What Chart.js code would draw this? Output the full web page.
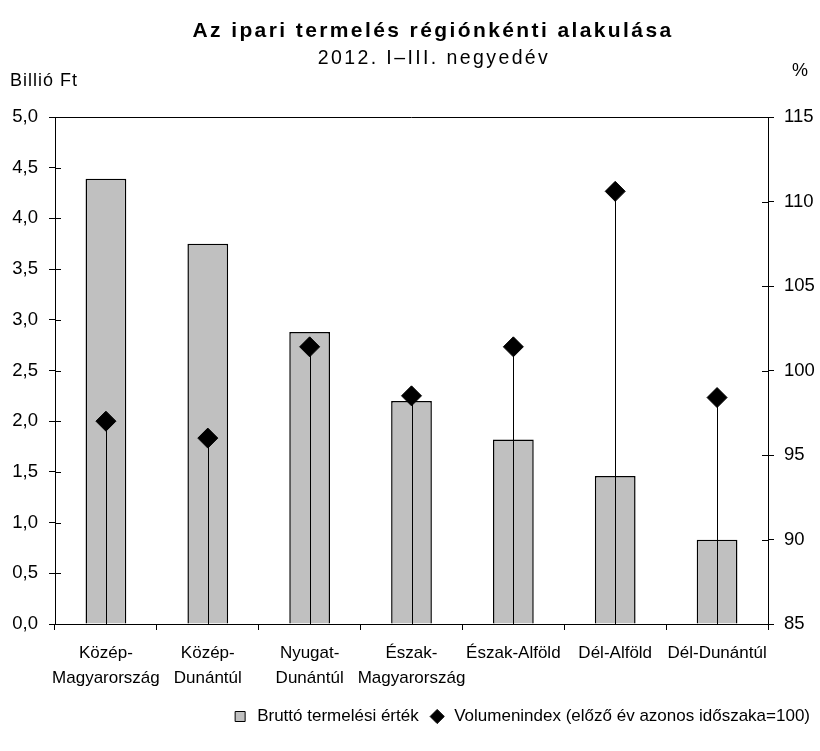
<!DOCTYPE html>
<html>
<head>
<meta charset="utf-8">
<script src="https://cdn.jsdelivr.net/npm/chart.js@4.4.1/dist/chart.umd.min.js"></script>
<style>
  html, body { margin: 0; padding: 0; background: #fff; }
  #wrap { width: 820px; height: 751px; }
</style>
</head>
<body>
<div id="wrap"><canvas id="myChart" width="820" height="751"></canvas></div>
<script>
// chart data
const regions = [
  ['Közép-', 'Magyarország'],
  ['Közép-', 'Dunántúl'],
  ['Nyugat-', 'Dunántúl'],
  ['Észak-', 'Magyarország'],
  'Észak-Alföld',
  'Dél-Alföld',
  'Dél-Dunántúl'
];
const grossOutput = [4.39, 3.75, 2.88, 2.2, 1.82, 1.46, 0.83];     // billió Ft
const volumeIndex = [97.0, 96.0, 101.4, 98.5, 101.4, 110.6, 98.4];  // %
const leftTicks = ['0,0', '0,5', '1,0', '1,5', '2,0', '2,5', '3,0', '3,5', '4,0', '4,5', '5,0'];
const rightTicks = ['85', '90', '95', '100', '105', '110', '115'];

const titleText = 'Az ipari termelés régiónkénti alakulása';
const subtitleText = '2012. I–III. negyedév';

const FONT = "'Liberation Sans', Arial, sans-serif";
Chart.defaults.font.family = FONT;
Chart.defaults.color = '#000';

// vertical lines from the bottom of the right axis up to each diamond
const dropLines = {
  id: 'dropLines',
  beforeDatasetDraw(chart, args) {
    if (args.index !== 1) return;
    const ctx = chart.ctx;
    const meta = chart.getDatasetMeta(1);
    const bottom = chart.scales.y1.getPixelForValue(chart.scales.y1.min);
    ctx.save();
    ctx.strokeStyle = '#000';
    ctx.lineWidth = 1;
    meta.data.forEach(p => {
      const x = Math.round(p.x) + 0.5;
      ctx.beginPath();
      ctx.moveTo(x, bottom);
      ctx.lineTo(x, p.y);
      ctx.stroke();
    });
    ctx.restore();
  }
};

// write text with extra spacing between letters (old Excel look)
function spacedText(ctx, text, cx, cy, spacing) {
  ctx.letterSpacing = spacing + 'px';
  const w = ctx.measureText(text).width;
  ctx.textAlign = 'left';
  ctx.fillText(text, cx - w / 2, cy);
  ctx.letterSpacing = '0px';
}

// titles, top frame line, inner half of the y ticks, unit labels
const frame = {
  id: 'frame',
  afterDraw(chart) {
    const ctx = chart.ctx;
    const area = chart.chartArea;
    const y = chart.scales.y, y1 = chart.scales.y1;
    ctx.save();
    ctx.strokeStyle = '#000';
    ctx.lineWidth = 1;
    ctx.beginPath();
    ctx.moveTo(area.left, Math.round(area.top) + 0.5);
    ctx.lineTo(area.right, Math.round(area.top) + 0.5);
    y.ticks.forEach(t => {
      const py = Math.round(y.getPixelForValue(t.value)) + 0.5;
      ctx.moveTo(area.left, py);
      ctx.lineTo(area.left + 6, py);
    });
    y1.ticks.forEach(t => {
      const py = Math.round(y1.getPixelForValue(t.value)) + 0.5;
      ctx.moveTo(area.right - 6, py);
      ctx.lineTo(area.right, py);
    });
    ctx.stroke();

    ctx.fillStyle = '#000';
    ctx.textBaseline = 'middle';
    ctx.font = 'bold 21px ' + FONT;
    spacedText(ctx, titleText, 433, 31, 2.4);
    ctx.font = '19.5px ' + FONT;
    spacedText(ctx, subtitleText, 434, 59, 2.4);

    ctx.font = '18px ' + FONT;
    ctx.textAlign = 'left';
    ctx.letterSpacing = '1px';
    ctx.fillText('Billió Ft', 10, 81);
    ctx.letterSpacing = '0px';
    ctx.fillText('%', 792, 71);
    ctx.restore();
  }
};

const ctx = document.getElementById('myChart').getContext('2d');
const myChart = new Chart(ctx, {
  data: {
    labels: regions,
    datasets: [
      {
        type: 'bar',
        label: 'Bruttó termelési érték',
        data: grossOutput,
        yAxisID: 'y',
        backgroundColor: '#C0C0C0',
        borderColor: '#000',
        borderWidth: 1.5,
        barPercentage: 0.4,
        categoryPercentage: 1.0,
        order: 2
      },
      {
        type: 'line',
        label: 'Volumenindex (előző év azonos időszaka=100)',
        data: volumeIndex,
        yAxisID: 'y1',
        showLine: false,
        pointStyle: 'rectRot',
        pointRadius: 10,
        pointHoverRadius: 10,
        backgroundColor: '#000',
        borderColor: '#000',
        borderWidth: 1,
        order: 1
      }
    ]
  },
  options: {
    responsive: false,
    animation: false,
    layout: { padding: { left: 0, right: 0, top: 117, bottom: 16 } },
    plugins: {
      title: { display: false },
      legend: {
        position: 'bottom',
        align: 'end',
        labels: {
          font: { size: 17 },
          color: '#000',
          usePointStyle: true,
          boxHeight: 10,
          padding: 10,
          generateLabels(chart) {
            return chart.data.datasets.map((ds, i) => ({
              text: ds.label,
              fillStyle: ds.backgroundColor,
              strokeStyle: '#000',
              lineWidth: 1,
              pointStyle: ds.type === 'bar' ? 'rect' : 'rectRot',
              datasetIndex: i,
              hidden: false
            }));
          }
        }
      },
      tooltip: { enabled: false }
    },
    scales: {
      x: {
        offset: true,
        grid: { offset: true, drawOnChartArea: false, tickLength: 6, color: '#000' },
        border: { color: '#000', width: 1 },
        ticks: { font: { size: 17, lineHeight: 1.47 }, color: '#000', padding: 11, maxRotation: 0, autoSkip: false },
        afterFit(scale) { scale.height = 74; }
      },
      y: {
        position: 'left',
        min: 0,
        max: 5,
        ticks: {
          stepSize: 0.5,
          font: { size: 18.5 },
          color: '#000',
          padding: 11,
          callback: (v, i) => leftTicks[i]
        },
        grid: { drawOnChartArea: false, tickLength: 6, color: '#000' },
        border: { color: '#000', width: 1 },
        afterFit(scale) { scale.width = 55; }
      },
      y1: {
        position: 'right',
        min: 85,
        max: 115,
        ticks: {
          stepSize: 5,
          font: { size: 18.5 },
          color: '#000',
          padding: 10,
          callback: (v, i) => rightTicks[i]
        },
        grid: { drawOnChartArea: false, tickLength: 6, color: '#000' },
        border: { color: '#000', width: 1 },
        afterFit(scale) { scale.width = 52; }
      }
    }
  },
  plugins: [dropLines, frame]
});
</script>
</body>
</html>
